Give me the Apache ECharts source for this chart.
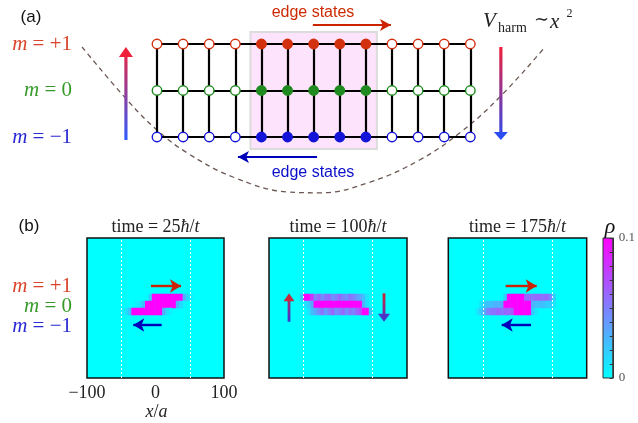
<!DOCTYPE html>
<html>
<head>
<meta charset="utf-8">
<script src="https://cdn.jsdelivr.net/npm/echarts@6/dist/echarts.min.js"></script>
<style>
  html, body { margin: 0; padding: 0; background: #fff; }
  #chart { width: 638px; height: 423px; }
</style>
</head>
<body>
<div id="chart"></div>
<script>
// ---- (a) lattice: sites along x, spin component m
const sites = [0, 1, 2, 3, 4, 5, 6, 7, 8, 9, 10, 11, 12]
const edgeSites = [4, 5, 6, 7, 8]
const mRows = [1, 0, -1]
// harmonic trap sketch (site units, m units)
const potential = [
  [-2.87, 0.935], [-1.15, -0.2], [0, -0.85], [1.15, -1.34], [2.91, -1.86], [4.98, -2.18],
  [6.24, -2.2], [8.16, -1.97], [10.07, -1.49], [11.6, -0.91], [13.13, -0.14], [14.86, 0.935],
]
const edgeBox = [[3.58, 1.26], [8.42, -1.26]]
const edgeArrowTop = [[5.97, 1.41], [8.96, 1.41]]
const edgeArrowBottom = [[6.13, -1.43], [3.1, -1.43]]
const pumpUp = [[-1.19, -1.065], [-1.19, 0.935]]
const pumpDown = [[13.17, 0.935], [13.17, -1.065]]

// ---- (b) density rho(x, m) at three times, x bins of 5a
const xBins = [-97.5, -92.5, -87.5, -82.5, -77.5, -72.5, -67.5, -62.5, -57.5, -52.5,
  -47.5, -42.5, -37.5, -32.5, -27.5, -22.5, -17.5, -12.5, -7.5, -2.5,
  2.5, 7.5, 12.5, 17.5, 22.5, 27.5, 32.5, 37.5, 42.5, 47.5,
  52.5, 57.5, 62.5, 67.5, 72.5, 77.5, 82.5, 87.5, 92.5, 97.5]
const ySlots = [0, 1, 2, 3, 4, 5, 6, 7, 8, 9, 10, 11, 12, 13, 14, 15, 16, 17, 18, 19]
const mSlot = { up: 11, zero: 10, down: 9 }

const rho25Up = [0, 0, 0, 0, 0, 0, 0, 0, 0, 0, 0, 0, 0, 0, 0, 0, 0, 0, 0.02, 0.1,
  0.1, 0.1, 0.1, 0.1, 0.1, 0.1, 0.1, 0.1, 0.03, 0.015, 0.005, 0, 0, 0, 0, 0, 0, 0, 0, 0]
const rho25Zero = [0, 0, 0, 0, 0, 0, 0, 0, 0, 0, 0, 0, 0, 0, 0.005, 0.01, 0.025, 0.1, 0.1, 0.1,
  0.1, 0.1, 0.1, 0.1, 0.1, 0.1, 0.03, 0.015, 0.005, 0, 0, 0, 0, 0, 0, 0, 0, 0, 0, 0]
const rho25Down = [0, 0, 0, 0, 0, 0, 0, 0, 0, 0, 0.005, 0.012, 0.025, 0.1, 0.1, 0.1, 0.1, 0.1, 0.1, 0.1,
  0.1, 0.1, 0.03, 0.012, 0.005, 0, 0, 0, 0, 0, 0, 0, 0, 0, 0, 0, 0, 0, 0, 0]

const rho100Up = [0, 0, 0, 0, 0, 0, 0, 0, 0, 0.02, 0.1, 0.1, 0.08, 0.05, 0.06, 0.045, 0.055, 0.06, 0.045, 0.05,
  0.06, 0.05, 0.045, 0.055, 0.05, 0.04, 0.035, 0.025, 0.01, 0, 0, 0, 0, 0, 0, 0, 0, 0, 0, 0]
const rho100Zero = [0, 0, 0, 0, 0, 0, 0, 0, 0, 0, 0.01, 0.02, 0.035, 0.1, 0.1, 0.1, 0.1, 0.1, 0.1, 0.1,
  0.1, 0.1, 0.1, 0.1, 0.1, 0.1, 0.1, 0.03, 0.012, 0, 0, 0, 0, 0, 0, 0, 0, 0, 0, 0]
const rho100Down = [0, 0, 0, 0, 0, 0, 0, 0, 0, 0, 0, 0.01, 0.025, 0.035, 0.045, 0.055, 0.04, 0.05, 0.06, 0.045,
  0.05, 0.06, 0.045, 0.055, 0.05, 0.06, 0.07, 0.1, 0.1, 0.02, 0, 0, 0, 0, 0, 0, 0, 0, 0, 0]

const rho175Up = [0, 0, 0, 0, 0, 0, 0, 0, 0, 0, 0, 0, 0, 0, 0, 0, 0.02, 0.1, 0.1, 0.1,
  0.1, 0.1, 0.06, 0.06, 0.055, 0.06, 0.06, 0.055, 0.06, 0.05, 0.02, 0, 0, 0, 0, 0, 0, 0, 0, 0]
const rho175Zero = [0, 0, 0, 0, 0, 0, 0, 0, 0, 0.01, 0.02, 0.025, 0.025, 0.03, 0.03, 0.035, 0.1, 0.1, 0.1, 0.1,
  0.1, 0.1, 0.1, 0.1, 0.03, 0.025, 0.025, 0.025, 0.02, 0.02, 0.01, 0, 0, 0, 0, 0, 0, 0, 0, 0]
const rho175Down = [0, 0, 0, 0, 0, 0, 0, 0, 0.01, 0.02, 0.035, 0.05, 0.055, 0.055, 0.06, 0.055, 0.06, 0.06, 0.065, 0.1,
  0.1, 0.1, 0.1, 0.1, 0.02, 0.008, 0, 0, 0, 0, 0, 0, 0, 0, 0, 0, 0, 0, 0, 0]

const xTicks = [-100, 0, 100]
const guideLines = [-50, 50]
const rhoRange = [0, 0.1]
const rhoColors = ['#00ffff', '#ff00ff']

const SERIF = "'Liberation Serif', 'DejaVu Serif', serif"
const SANS = "'Liberation Sans', Arial, sans-serif"
const RED = '#d2300f'
const GREEN = '#1f8a1f'
const BLUE = '#1414d8'
const ARROW_RED = '#cc2200'
const ARROW_BLUE = '#0000bb'

const panels = [
  { time: '25', left: 87, width: 137, up: rho25Up, zero: rho25Zero, down: rho25Down,
    arrows: [[[-6.6, 13.14], [37.2, 13.14], ARROW_RED], [[9.05, 7.57], [-32.4, 7.57], ARROW_BLUE]] },
  { time: '100', left: 269, width: 138, up: rho100Up, zero: rho100Zero, down: rho100Down,
    arrows: [] },
  { time: '175', left: 448.3, width: 138.4, up: rho175Up, zero: rho175Zero, down: rho175Down,
    arrows: [[[-17.1, 13.14], [27.7, 13.14], ARROW_RED], [[19.5, 7.57], [-22.8, 7.57], ARROW_BLUE]] },
]
// pumping arrows in middle panel (value axes: x/a, row units)
const pump100Up = [[-71, 8.04], [-71, 12.1]]
const pump100Down = [[66.7, 12.1], [66.7, 8.04]]

const PANEL_TOP = 238
const PANEL_H = 140

const rowColor = m => (m === 1 ? RED : m === 0 ? GREEN : BLUE)

const latticeSegments = []
mRows.forEach(m => latticeSegments.push({ coords: [[sites[0], m], [sites[sites.length - 1], m]] }))
sites.forEach(s => latticeSegments.push({ coords: [[s, 1], [s, -1]] }))

const nodes = []
mRows.forEach(m => {
  sites.forEach(s => {
    const filled = edgeSites.includes(s)
    nodes.push({
      value: [s, m],
      itemStyle: { color: filled ? rowColor(m) : '#fff', borderColor: rowColor(m), borderWidth: 1.4, opacity: 1 },
    })
  })
})

const grids = [{ left: 78.67, top: 20.75, width: 496.09, height: 186 }]
const xAxes = [{ type: 'value', gridIndex: 0, min: -3, max: 16, show: false }]
const yAxes = [{ type: 'value', gridIndex: 0, min: -2.5, max: 1.5, show: false }]
const series = [
  {
    type: 'line', xAxisIndex: 0, yAxisIndex: 0, data: potential, smooth: 0.4, symbol: 'none', z: 2,
    lineStyle: { color: '#6b5752', width: 1.3, type: [5, 4] },
    markArea: {
      silent: true,
      itemStyle: { color: '#fde3fb', borderColor: '#dcdcdc', borderWidth: 2 },
      data: [[{ coord: edgeBox[0] }, { coord: edgeBox[1] }]],
    },
  },
  {
    type: 'lines', coordinateSystem: 'cartesian2d', xAxisIndex: 0, yAxisIndex: 0, z: 3,
    lineStyle: { color: '#000', width: 2.2, opacity: 1 }, data: latticeSegments,
  },
  {
    type: 'scatter', xAxisIndex: 0, yAxisIndex: 0, z: 4, symbol: 'circle', symbolSize: 9.5, data: nodes,
    markLine: {
      silent: true, symbol: ['none', 'arrow'], symbolSize: [9, 11], label: { show: false },
      data: [
        [{ coord: edgeArrowTop[0], lineStyle: { color: ARROW_RED, width: 2, type: 'solid' } }, { coord: edgeArrowTop[1] }],
        [{ coord: edgeArrowBottom[0], lineStyle: { color: ARROW_BLUE, width: 2, type: 'solid' } }, { coord: edgeArrowBottom[1] }],
      ],
    },
  },
]

const heatmapIdx = []
panels.forEach((p, k) => {
  const g = k + 1
  const xc = 2 * k + 1
  const xv = 2 * k + 2
  grids.push({ left: p.left, top: PANEL_TOP, width: p.width, height: PANEL_H, show: true,
    backgroundColor: rhoColors[0], borderColor: '#111', borderWidth: 1.5 })
  xAxes.push({ type: 'category', gridIndex: g, data: xBins, show: false, position: 'top' })
  xAxes.push({
    type: 'value', gridIndex: g, min: -100, max: 100, interval: 100, position: 'bottom',
    show: k === 0, axisLine: { show: false }, axisTick: { show: false }, splitLine: { show: false },
    axisLabel: { show: k === 0, margin: 6, color: '#222', fontFamily: SERIF, fontSize: 18,
      formatter: v => (xTicks.includes(v) ? String(v).replace('-', '\u2212') : '') },
  })
  yAxes.push({ type: 'category', gridIndex: g, data: ySlots, show: false, position: 'right' })
  yAxes.push({ type: 'value', gridIndex: g, min: 0, max: 20, show: false })

  const cells = []
  xBins.forEach((_, i) => {
    if (p.up[i] > 0) cells.push([i, mSlot.up, p.up[i]])
    if (p.zero[i] > 0) cells.push([i, mSlot.zero, p.zero[i]])
    if (p.down[i] > 0) cells.push([i, mSlot.down, p.down[i]])
  })
  heatmapIdx.push(series.length)
  series.push({ type: 'heatmap', xAxisIndex: xc, yAxisIndex: xc, data: cells, z: 2,
    itemStyle: { borderWidth: 0 }, emphasis: { disabled: true } })
  series.push({
    type: 'scatter', xAxisIndex: xv, yAxisIndex: xv, data: [], z: 5,
    markLine: {
      silent: true, symbol: 'none', label: { show: false },
      lineStyle: { color: '#ffffff', width: 1, type: [2, 2] },
      data: guideLines.map(x => ({ xAxis: x })),
    },
  })
  if (p.arrows.length) {
    series.push({
      type: 'scatter', xAxisIndex: xv, yAxisIndex: xv, data: [], z: 6,
      markLine: {
        silent: true, symbol: ['none', 'arrow'], symbolSize: [10, 11], label: { show: false },
        data: p.arrows.map(a => [{ coord: a[0], lineStyle: { color: a[2], width: 2.4, type: 'solid' } }, { coord: a[1] }]),
      },
    })
  }
})

// colour bar: gradient frame with ticks on the right
grids.push({
  left: 603, top: PANEL_TOP, width: 13.5, height: PANEL_H, show: true,
  backgroundColor: { type: 'linear', x: 0, y: 0, x2: 0, y2: 1,
    colorStops: [{ offset: 0, color: rhoColors[1] }, { offset: 1, color: rhoColors[0] }] },
  borderColor: '#333', borderWidth: 1,
})
xAxes.push({ type: 'category', gridIndex: 4, data: ['rho'], show: false })
yAxes.push({
  type: 'value', gridIndex: 4, min: rhoRange[0], max: rhoRange[1], interval: 0.01, position: 'right',
  axisLine: { show: true, lineStyle: { color: '#333', width: 1 } },
  axisTick: { show: true, inside: true, length: 3, lineStyle: { color: '#333' } },
  splitLine: { show: false },
  axisLabel: { margin: 6, color: '#555', fontFamily: SERIF, fontSize: 13,
    formatter: v => (v === 0 ? '0' : Math.abs(v - 0.1) < 1e-9 ? '0.1' : '') },
})

function mathText(x, y, parts, size, color, align) {
  const rich = {
    i: { fontFamily: SERIF, fontSize: size, fontStyle: 'italic', fill: color },
    r: { fontFamily: SERIF, fontSize: size, fill: color },
  }
  return {
    type: 'text', x, y, z: 20,
    style: { text: parts, rich, align: align || 'center', verticalAlign: 'middle',
      fontFamily: SERIF, fontSize: size, fill: color },
  }
}
function plainText(x, y, text, size, color, family, style) {
  return {
    type: 'text', x, y, z: 20,
    style: { text, fontFamily: family || SANS, fontSize: size, fill: color, fontStyle: style || 'normal',
      align: 'center', verticalAlign: 'middle' },
  }
}

const labelRed = '#d9442a'
const labelGreen = '#379a2b'
const labelBlue = '#2a2ad3'
const mLabels = (ys) => [
  mathText(72, ys[0], '{i|m}{r| = +1}', 21, labelRed, 'right'),
  mathText(72, ys[1], '{i|m}{r| = 0}', 21, labelGreen, 'right'),
  mathText(72, ys[2], '{i|m}{r| = \u22121}', 21, labelBlue, 'right'),
]

const texts = [
  plainText(31, 17, '(a)', 17, '#111'),
  plainText(29, 226, '(b)', 17, '#111'),
  plainText(313, 13, 'edge states', 16, '#cc2a00'),
  plainText(313, 173, 'edge states', 16, '#0a10c8'),
  ...mLabels([44.5, 90.5, 137]),
  ...mLabels([286, 306.5, 326.5]),
  { type: 'text', x: 483, y: 21.5, z: 20, style: { text: 'V', fontFamily: SERIF, fontSize: 21, fontStyle: 'italic', fill: '#222', verticalAlign: 'middle' } },
  { type: 'text', x: 498, y: 28.5, z: 20, style: { text: 'harm', fontFamily: SERIF, fontSize: 14, fill: '#222', verticalAlign: 'middle' } },
  { type: 'text', x: 534, y: 20.5, z: 20, style: { text: '\u223c', fontFamily: SERIF, fontSize: 18, fill: '#222', verticalAlign: 'middle' } },
  { type: 'text', x: 550, y: 22, z: 20, style: { text: 'x', fontFamily: SERIF, fontSize: 21, fontStyle: 'italic', fill: '#222', verticalAlign: 'middle' } },
  { type: 'text', x: 566.5, y: 14, z: 20, style: { text: '2', fontFamily: SERIF, fontSize: 12, fill: '#222', verticalAlign: 'middle' } },
  mathText(610, 227, '{i|\u03c1}', 22, '#111'),
  mathText(156.5, 412, '{i|x}{r|/}{i|a}', 18, '#222'),
]
panels.forEach(p => {
  texts.push(mathText(p.left + p.width / 2, 227, '{r|time = ' + p.time + '}{i|\u0127}{r|/}{i|t}', 18, '#222'))
})

const chart = echarts.init(document.getElementById('chart'), null, { renderer: 'canvas' })
chart.setOption({
  animation: false,
  backgroundColor: '#fff',
  grid: grids,
  xAxis: xAxes,
  yAxis: yAxes,
  visualMap: {
    type: 'continuous', show: false, min: rhoRange[0], max: rhoRange[1], seriesIndex: heatmapIdx,
    inRange: { color: rhoColors },
  },
  series,
  graphic: texts,
})

// gradient (spin-pumping) arrows, placed through the axes
function gradArrow(finder, tail, tip, c0, c1, head, stemW, headW, headL) {
  const p0 = chart.convertToPixel(finder, tail)
  const p1 = chart.convertToPixel(finder, tip)
  const dx = p1[0] - p0[0]
  const dy = p1[1] - p0[1]
  const len = Math.hypot(dx, dy)
  const ux = dx / len
  const uy = dy / len
  const bx = p1[0] - ux * headL
  const by = p1[1] - uy * headL
  return [
    {
      type: 'line', z: 15,
      shape: { x1: p0[0], y1: p0[1], x2: bx + ux, y2: by + uy },
      style: { lineWidth: stemW,
        stroke: new echarts.graphic.LinearGradient(p0[0], p0[1], p1[0], p1[1],
          [{ offset: 0, color: c0 }, { offset: 1, color: c1 }], true) },
    },
    {
      type: 'polygon', z: 15,
      shape: { points: [[p1[0], p1[1]], [bx - uy * headW / 2, by + ux * headW / 2], [bx + uy * headW / 2, by - ux * headW / 2]] },
      style: { fill: head },
    },
  ]
}

const arrows = [
  ...gradArrow({ xAxisIndex: 0, yAxisIndex: 0 }, pumpUp[0], pumpUp[1], '#2f5cff', '#f0203a', '#f0203a', 3.2, 14, 10),
  ...gradArrow({ xAxisIndex: 0, yAxisIndex: 0 }, pumpDown[0], pumpDown[1], '#f0203a', '#2a4cf0', '#2a4cf0', 3.2, 14, 8),
  ...gradArrow({ xAxisIndex: 4, yAxisIndex: 4 }, pump100Up[0], pump100Up[1], '#3535d8', '#cc2a40', '#c8283c', 2.8, 11, 8),
  ...gradArrow({ xAxisIndex: 4, yAxisIndex: 4 }, pump100Down[0], pump100Down[1], '#d02830', '#4a30c8', '#4a35c8', 2.8, 12, 8),
]
chart.setOption({ graphic: texts.concat(arrows) })
</script>
</body>
</html>
